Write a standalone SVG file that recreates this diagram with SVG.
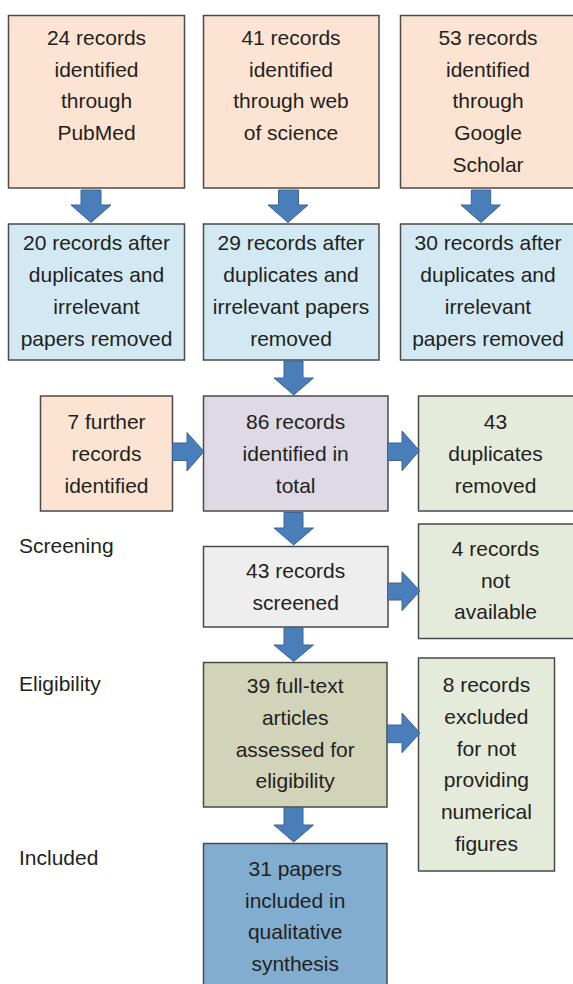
<svg xmlns="http://www.w3.org/2000/svg" width="573" height="984" viewBox="0 0 573 984">
<style>
.box{stroke:#4a4a4a;stroke-width:1.5}
.peach{fill:#fde4d2}
.blue{fill:#d2e9f3}
.purple{fill:#ded9e5}
.green{fill:#e4ebda}
.grey{fill:#eeeeee}
.olive{fill:#d2d4ba}
.dblue{fill:#81aed0}
text{font-family:"Liberation Sans",Arial,sans-serif;font-size:21px;fill:#231f20}
.c{text-anchor:middle}
.arrow{fill:#4a7ebb;stroke:#3a6592;stroke-width:1}
</style>
<rect width="573" height="984" fill="#ffffff"/>
<g id="n1"><rect class="box peach" x="8.5" y="15.5" width="176" height="172.5"/>
<text class="c" x="96.5" y="45">24 records</text><text class="c" x="96.5" y="76.7">identified</text><text class="c" x="96.5" y="108.3">through</text><text class="c" x="96.5" y="140">PubMed</text></g>
<g id="n2"><rect class="box peach" x="203.5" y="15.5" width="175.5" height="172.5"/>
<text class="c" x="291" y="45">41 records</text><text class="c" x="291" y="76.7">identified</text><text class="c" x="291" y="108.3">through web</text><text class="c" x="291" y="140">of science</text></g>
<g id="n3"><rect class="box peach" x="400.5" y="15.5" width="176" height="172.5"/>
<text class="c" x="488" y="45">53 records</text><text class="c" x="488" y="76.7">identified</text><text class="c" x="488" y="108.3">through</text><text class="c" x="488" y="140">Google</text><text class="c" x="488" y="171.7">Scholar</text></g>
<g id="n4"><rect class="box blue" x="8.5" y="224" width="176" height="136"/>
<text class="c" x="96.5" y="250">20 records after</text><text class="c" x="96.5" y="282">duplicates and</text><text class="c" x="96.5" y="314">irrelevant</text><text class="c" x="96.5" y="346">papers removed</text></g>
<g id="n5"><rect class="box blue" x="203.5" y="224" width="175.5" height="136"/>
<text class="c" x="291" y="250">29 records after</text><text class="c" x="291" y="282">duplicates and</text><text class="c" x="291" y="314">irrelevant papers</text><text class="c" x="291" y="346">removed</text></g>
<g id="n6"><rect class="box blue" x="400.5" y="224" width="176" height="136"/>
<text class="c" x="488" y="250">30 records after</text><text class="c" x="488" y="282">duplicates and</text><text class="c" x="488" y="314">irrelevant</text><text class="c" x="488" y="346">papers removed</text></g>
<g id="n7"><rect class="box peach" x="40.5" y="396" width="132" height="115"/>
<text class="c" x="106.5" y="429.3">7 further</text><text class="c" x="106.5" y="461">records</text><text class="c" x="106.5" y="492.7">identified</text></g>
<g id="n8"><rect class="box purple" x="203.5" y="396" width="184.5" height="115"/>
<text class="c" x="295.7" y="429.3">86 records</text><text class="c" x="295.7" y="461">identified in</text><text class="c" x="295.7" y="492.7">total</text></g>
<g id="n9"><rect class="box green" x="418.5" y="396" width="156" height="115"/>
<text class="c" x="495.5" y="429.3">43</text><text class="c" x="495.5" y="461">duplicates</text><text class="c" x="495.5" y="492.7">removed</text></g>
<g id="lab-screening"><text x="19" y="552.7">Screening</text></g>
<g id="n10"><rect class="box grey" x="203.5" y="546.5" width="184.5" height="80.5"/>
<text class="c" x="295.7" y="578.3">43 records</text><text class="c" x="295.7" y="610">screened</text></g>
<g id="n11"><rect class="box green" x="418.5" y="524" width="156" height="114.5"/>
<text class="c" x="495.5" y="556">4 records</text><text class="c" x="495.5" y="587.7">not</text><text class="c" x="495.5" y="619.3">available</text></g>
<g id="lab-eligibility"><text x="19" y="690.7">Eligibility</text></g>
<g id="n12"><rect class="box olive" x="203.5" y="662.5" width="183.5" height="144.5"/>
<text class="c" x="295.2" y="693.3">39 full-text</text><text class="c" x="295.2" y="725">articles</text><text class="c" x="295.2" y="756.7">assessed for</text><text class="c" x="295.2" y="788.3">eligibility</text></g>
<g id="n13"><rect class="box green" x="418.5" y="658" width="136" height="213"/>
<text class="c" x="486.4" y="692.3">8 records</text><text class="c" x="486.4" y="724">excluded</text><text class="c" x="486.4" y="755.7">for not</text><text class="c" x="486.4" y="787.3">providing</text><text class="c" x="486.4" y="819">numerical</text><text class="c" x="486.4" y="850.7">figures</text></g>
<g id="lab-included"><text x="19" y="865">Included</text></g>
<g id="n14"><rect class="box dblue" x="203.5" y="843.5" width="183.5" height="150"/>
<text class="c" x="295.2" y="876">31 papers</text><text class="c" x="295.2" y="907.7">included in</text><text class="c" x="295.2" y="939.3">qualitative</text><text class="c" x="295.2" y="971">synthesis</text></g>
<g id="connectors">
<polygon class="arrow" points="81,190 101,190 101,205 111,205 91,222.5 71,205 81,205"/>
<polygon class="arrow" points="278.5,190 298.5,190 298.5,205 308,205 288,222.5 268,205 278.5,205"/>
<polygon class="arrow" points="471.3,190 490.7,190 490.7,205 500.5,205 481,222.5 461,205 471.3,205"/>
<polygon class="arrow" points="284,361 303,361 303,378 313.5,378 293.7,395 274,378 284,378"/>
<polygon class="arrow" points="284,512.5 303,512.5 303,528 313.5,528 293.7,545 274,528 284,528"/>
<polygon class="arrow" points="284,627.5 303,627.5 303,645 313.5,645 293.7,661.5 274,645 284,645"/>
<polygon class="arrow" points="284,807.5 303,807.5 303,825 313.5,825 293.7,842 274,825 284,825"/>
<polygon class="arrow" points="172.5,443 187,443 187,432.5 204,451.5 187,471 187,460.5 172.5,460.5"/>
<polygon class="arrow" points="387.5,443 402,443 402,431 419.5,450.7 402,470.7 402,460.5 387.5,460.5"/>
<polygon class="arrow" points="387.5,583 402,583 402,571.7 420,591 402,610.7 402,600 387.5,600"/>
<polygon class="arrow" points="387.5,725 402,725 402,713 420,733 402,752.7 402,742.7 387.5,742.7"/>
</g>
</svg>
